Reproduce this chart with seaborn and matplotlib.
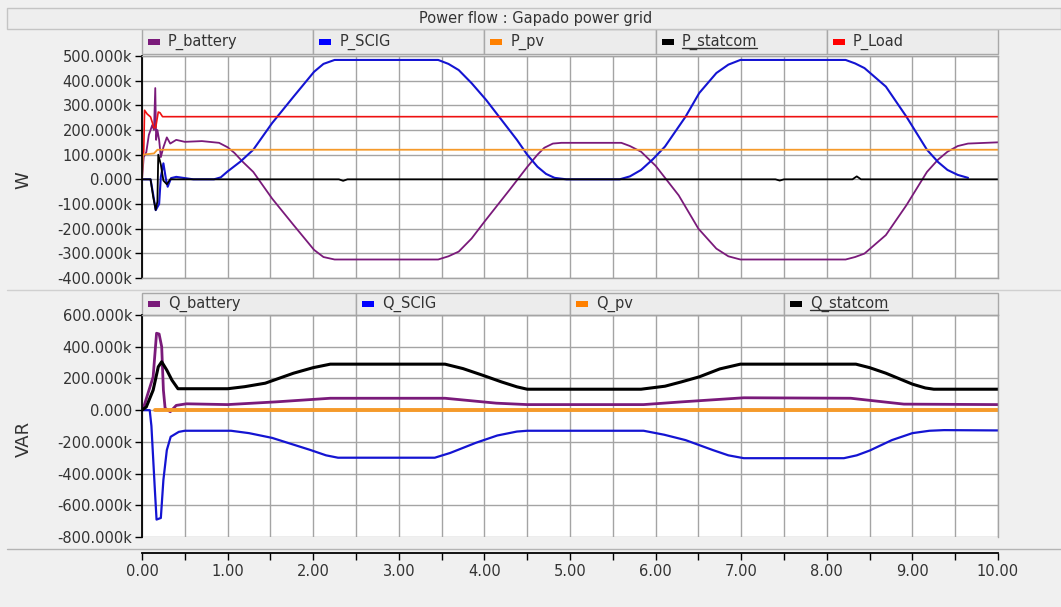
import numpy as np
import pandas as pd
import matplotlib
matplotlib.use('Agg')
import matplotlib.pyplot as plt
import seaborn as sns
from matplotlib.patches import Rectangle
from matplotlib.lines import Line2D
from matplotlib.transforms import IdentityTransform
from matplotlib.ticker import FuncFormatter, MultipleLocator

# data (values in kW / kVAR)
t_pbat = [0.00, 0.02, 0.05, 0.08, 0.12, 0.14, 0.155, 0.165, 0.18, 0.20, 0.22, 0.25, 0.29, 0.33, 0.40,
          0.50, 0.70, 0.90, 1.00, 1.08, 1.18, 1.30, 1.52, 1.77, 2.01, 2.12, 2.25, 3.46, 3.58, 3.70,
          3.85, 4.00, 4.30, 4.50, 4.62, 4.70, 4.80, 4.90, 5.60, 5.70, 5.83, 6.00, 6.27, 6.50, 6.71,
          6.85, 6.99, 8.22, 8.33, 8.44, 8.69, 8.93, 9.17, 9.30, 9.41, 9.53, 9.65, 10.0]
p_bat = [0, 90, 110, 180, 220, 200, 370, 160, 200, 160, 90, 130, 170, 145, 160,
         152, 155, 148, 130, 107, 70, 30, -78, -185, -286, -315, -325, -325, -312, -293,
         -240, -172, -40, 50, 100, 128, 145, 148, 148, 135, 112, 55, -65, -200, -281,
         -312, -325, -325, -315, -301, -226, -105, 30, 80, 112, 135, 145, 150]

t_pscig = [0.00, 0.10, 0.13, 0.16, 0.20, 0.22, 0.25, 0.28, 0.30, 0.34, 0.40, 0.50, 0.60, 0.84, 0.92,
           1.00, 1.15, 1.30, 1.52, 1.77, 2.01, 2.12, 2.25, 3.46, 3.58, 3.70, 3.85, 4.02, 4.38, 4.50,
           4.62, 4.72, 4.82, 4.96, 5.58, 5.70, 5.83, 5.97, 6.11, 6.35, 6.51, 6.71, 6.85, 6.99, 8.22,
           8.33, 8.44, 8.69, 8.93, 9.17, 9.30, 9.41, 9.53, 9.65]
p_scig = [0, 0, -60, -125, -100, 10, 65, 0, -30, 5, 10, 5, 0, 0, 8,
          32, 72, 120, 228, 335, 436, 468, 484, 484, 468, 443, 390, 322, 160, 100,
          51, 22, 6, 0, 0, 12, 38, 82, 133, 254, 350, 431, 465, 484, 484,
          470, 451, 376, 254, 120, 70, 38, 18, 6]

t_ppv = [0.00, 0.01, 0.14, 0.18, 10.0]
p_pv = [0, 100, 105, 120, 120]

t_pstat = [0.00, 0.10, 0.13, 0.16, 0.18, 0.19, 0.22, 0.25, 0.29, 0.33, 0.45, 2.30, 2.35, 2.40,
           7.40, 7.45, 7.50, 8.30, 8.35, 8.40, 10.0]
p_stat = [0, 0, -70, -124, -90, 100, 60, -5, -20, 0, 0, 0, -6, 0,
          0, -5, 0, 0, 12, 0, 0]

t_pload = [0.00, 0.02, 0.03, 0.06, 0.10, 0.14, 0.16, 0.19, 0.21, 0.24, 10.0]
p_load = [100, 110, 280, 265, 253, 209, 210, 273, 270, 254, 254]

t_qbat = [0.00, 0.02, 0.13, 0.17, 0.20, 0.23, 0.25, 0.27, 0.33, 0.40, 0.52, 1.00, 1.56, 2.20, 3.54,
          4.14, 4.50, 5.86, 6.30, 7.03, 8.28, 8.90, 10.0]
q_bat = [0, 20, 210, 485, 480, 400, 126, 12, -10, 30, 40, 35, 52, 75, 75,
         44, 35, 35, 52, 78, 75, 38, 35]

t_qscig = [0.00, 0.09, 0.11, 0.15, 0.17, 0.22, 0.25, 0.29, 0.335, 0.43, 0.50, 1.04, 1.25, 1.52, 1.96,
           2.15, 2.29, 3.42, 3.60, 3.90, 4.15, 4.38, 4.50, 5.86, 6.10, 6.35, 6.67, 6.85, 7.03, 8.20,
           8.35, 8.50, 8.76, 9.00, 9.20, 9.37, 10.0]
q_scig = [0, 0, -100, -500, -690, -680, -440, -252, -168, -137, -130, -130, -145, -175, -250,
          -285, -300, -300, -270, -206, -160, -135, -130, -130, -155, -189, -252, -285, -303, -303,
          -285, -255, -189, -145, -130, -126, -128]

t_qpv = [0.15, 10.0]
q_pv = [0, 0]

t_qstat = [0.00, 0.05, 0.13, 0.19, 0.23, 0.29, 0.35, 0.42, 1.00, 1.20, 1.44, 1.77, 2.00, 2.20, 3.54,
           3.75, 3.98, 4.20, 4.38, 4.50, 5.83, 6.11, 6.30, 6.51, 6.75, 6.99, 8.34, 8.50, 8.69, 9.00,
           9.15, 9.25, 10.0]
q_stat = [0, 20, 126, 273, 305, 252, 189, 135, 135, 148, 170, 233, 268, 290, 290,
          262, 220, 178, 147, 132, 132, 151, 178, 210, 260, 290, 290, 268, 233, 164,
          140, 132, 132]

top_names = ['P_battery', 'P_SCIG', 'P_pv', 'P_statcom', 'P_Load']
bot_names = ['Q_battery', 'Q_SCIG', 'Q_pv', 'Q_statcom']

PURPLE = '#7a1a7a'
BLUE = '#1414d2'
ORANGE = '#f59a2a'
RED = '#ee1111'
BLACK = '#000000'
GRID = '#a4a4a4'
TXT = '#333333'

sns.set_theme(style='white')
plt.rcParams['font.family'] = ['DejaVu Sans']

W, H = 1061, 607
fig = plt.figure(figsize=(W / 100, H / 100), dpi=100)
fig.patch.set_facecolor('#f0f0f0')

ax1 = fig.add_axes([142 / W, (H - 278) / H, 856 / W, 222 / H])
ax2 = fig.add_axes([142 / W, (H - 537) / H, 856 / W, 222 / H])

top_series = [(t_pbat, p_bat, PURPLE, 1.3), (t_pscig, p_scig, BLUE, 1.5), (t_ppv, p_pv, ORANGE, 1.3),
              (t_pstat, p_stat, BLACK, 1.3), (t_pload, p_load, RED, 1.2)]
bot_series = [(t_qbat, q_bat, PURPLE, 2.0), (t_qscig, q_scig, BLUE, 1.6), (t_qpv, q_pv, ORANGE, 2.8),
              (t_qstat, q_stat, BLACK, 2.2)]

for t, v, c, lw in top_series:
    sns.lineplot(x=t, y=np.array(v) * 1000, ax=ax1, color=c, lw=lw, sort=False, estimator=None)
for t, v, c, lw in bot_series:
    sns.lineplot(x=t, y=np.array(v) * 1000, ax=ax2, color=c, lw=lw, sort=False, estimator=None)

kfmt = FuncFormatter(lambda v, p: '0.000' if abs(v) < 1 else f'{v / 1000:.3f}k')

for ax, lo, hi, step in [(ax1, -400e3, 500e3, 100e3), (ax2, -800e3, 600e3, 200e3)]:
    ax.set_facecolor('white')
    ax.set_xlim(0, 10)
    ax.set_ylim(lo, hi)
    ax.set_yticks(np.arange(lo, hi + 1, step))
    ax.yaxis.set_major_formatter(kfmt)
    ax.xaxis.set_major_locator(MultipleLocator(1))
    ax.xaxis.set_minor_locator(MultipleLocator(0.5))
    ax.grid(True, which='both', axis='x', color=GRID, lw=1)
    ax.grid(True, which='major', axis='y', color=GRID, lw=1)
    ax.set_axisbelow(True)
    ax.tick_params(axis='y', direction='out', length=5, width=1, color='black', labelsize=10.5,
                   labelcolor=TXT, pad=2, left=True)
    for s in ['top', 'right', 'bottom']:
        ax.spines[s].set_color(GRID)
        ax.spines[s].set_linewidth(1)
    ax.spines['left'].set_color('black')
    ax.spines['left'].set_linewidth(1.3)
    ax.set_xlabel('')

ax1.tick_params(axis='x', which='both', length=0, labelbottom=False)

ax2.spines['bottom'].set_position(('outward', 11.5))
ax2.spines['bottom'].set_color('black')
ax2.spines['bottom'].set_linewidth(1.3)
ax2.tick_params(axis='x', which='both', direction='out', length=5, width=1, color='black',
                labelsize=10.5, labelcolor=TXT, pad=3, bottom=True)
ax2.xaxis.set_major_formatter(FuncFormatter(lambda v, p: f'{v:.2f}'))

ax1.set_ylabel('W', fontsize=13, color=TXT)
ax2.set_ylabel('VAR', fontsize=13, color=TXT)
ax1.yaxis.set_label_coords(-0.128, 0.44)
ax2.yaxis.set_label_coords(-0.128, 0.44)

# title bar and separators
fig.add_artist(Rectangle((7 / W, 1 - 29 / H), 1 - 7 / W, 21 / H, transform=fig.transFigure,
                         facecolor='#eeeeee', edgecolor='#c4c4c4', lw=1))
fig.text(536 / W, 1 - 18 / H, 'Power flow : Gapado power grid', ha='center', va='center',
         fontsize=10.5, color=TXT)
fig.add_artist(Line2D([7 / W, 1], [1 - 290 / H] * 2, transform=fig.transFigure, color='#d0d0d0', lw=1))
fig.add_artist(Line2D([7 / W, 1], [1 - 549 / H] * 2, transform=fig.transFigure, color='#b4b4b4', lw=1))


def legend_bar(ax, names, colors, y0, h):
    n = len(names)
    texts = []
    for i, (name, c) in enumerate(zip(names, colors)):
        x0 = i / n
        ax.add_patch(Rectangle((x0, y0), 1 / n, h, transform=ax.transAxes, clip_on=False,
                               facecolor='#ececec', edgecolor='#a8a8a8', lw=1))
        ax.add_patch(Rectangle((x0 + 6 / 856, y0 + h / 2 - 3 / 222), 12 / 856, 6 / 222,
                               transform=ax.transAxes, clip_on=False, facecolor=c, edgecolor='none'))
        texts.append(ax.text(x0 + 26 / 856, y0 + h / 2, name, transform=ax.transAxes, va='center',
                             ha='left', fontsize=10.5, color=TXT))
    return texts


tt = legend_bar(ax1, top_names, [PURPLE, '#0000ff', '#ff8000', BLACK, '#ff0000'], 1.009, 0.112)
bt = legend_bar(ax2, bot_names, [PURPLE, '#0000ff', '#ff8000', BLACK], 1.0, 0.099)

# underline the statcom entries
fig.canvas.draw()
for t in [tt[3], bt[3]]:
    bb = t.get_window_extent()
    fig.add_artist(Line2D([bb.x0, bb.x1], [bb.y0 + 2, bb.y0 + 2], transform=IdentityTransform(),
                          color=TXT, lw=1))

fig.savefig('out.png', dpi=100, facecolor=fig.get_facecolor())
